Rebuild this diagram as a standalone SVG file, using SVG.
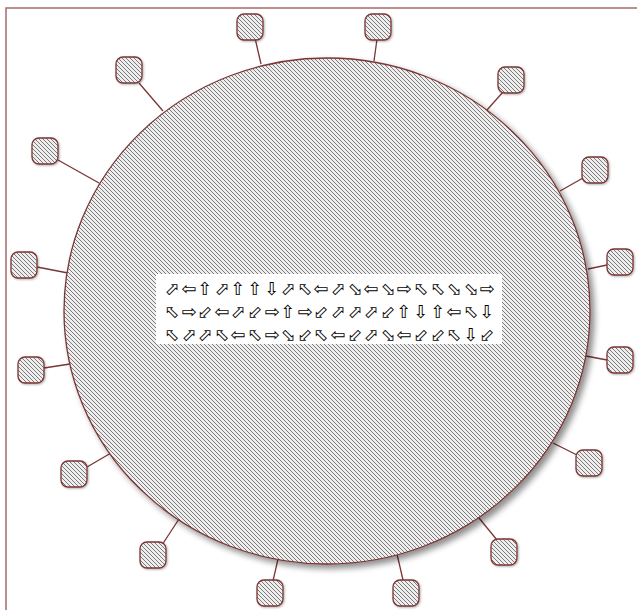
<svg xmlns="http://www.w3.org/2000/svg" width="637" height="610" viewBox="0 0 637 610">
<defs>
<pattern id="hatch" width="4" height="4" patternUnits="userSpaceOnUse">
<rect width="4" height="4" fill="#eeeeee"/>
<path d="M0,0 L4,4 M-1,3 L1,5 M3,-1 L5,1" stroke="#7a7a7a" stroke-width="1"/>
</pattern>
<filter id="shadow" x="-10%" y="-10%" width="125%" height="125%">
<feGaussianBlur in="SourceAlpha" stdDeviation="3"/>
<feOffset dx="4" dy="4" result="b"/>
<feComponentTransfer><feFuncA type="linear" slope="0.45"/></feComponentTransfer>
<feMerge><feMergeNode/><feMergeNode in="SourceGraphic"/></feMerge>
</filter>
<filter id="sshadow" x="-20%" y="-20%" width="150%" height="150%">
<feGaussianBlur in="SourceAlpha" stdDeviation="1"/>
<feOffset dx="1" dy="1"/>
<feComponentTransfer><feFuncA type="linear" slope="0.3"/></feComponentTransfer>
<feMerge><feMergeNode/><feMergeNode in="SourceGraphic"/></feMerge>
</filter>
</defs>
<style>
.frame{stroke:#a86a6a;stroke-width:1.5;fill:none}
.conn{stroke:#7b3535;stroke-width:1.3;fill:none}
.node{fill:url(#hatch);stroke:#7b3535;stroke-width:1.3}
.arr text{font-family:"DejaVu Sans",sans-serif;font-size:18px;fill:#000;text-anchor:middle}
</style>
<rect width="637" height="610" fill="#fff"/>
<path class="frame" d="M6,610 L6,8 L637,8"/>
<g id="connectors">
<line class="conn" x1="139" y1="83" x2="163" y2="111"/>
<line class="conn" x1="58" y1="160" x2="99" y2="183"/>
<line class="conn" x1="255" y1="38" x2="261" y2="64"/>
<line class="conn" x1="377" y1="39" x2="374" y2="61"/>
<line class="conn" x1="503" y1="92" x2="487" y2="110"/>
<line class="conn" x1="583" y1="178" x2="560" y2="191"/>
<line class="conn" x1="607" y1="265" x2="588" y2="269"/>
<line class="conn" x1="607" y1="360" x2="586" y2="356"/>
<line class="conn" x1="577" y1="455" x2="553" y2="443"/>
<line class="conn" x1="497" y1="540" x2="479" y2="518"/>
<line class="conn" x1="403" y1="580" x2="397" y2="554"/>
<line class="conn" x1="273" y1="581" x2="278" y2="559"/>
<line class="conn" x1="162" y1="545" x2="179" y2="519"/>
<line class="conn" x1="87" y1="467" x2="111" y2="453"/>
<line class="conn" x1="44" y1="368" x2="70" y2="364"/>
<line class="conn" x1="37" y1="267" x2="68" y2="273"/>
</g>
<g id="hub">
<ellipse cx="327" cy="311" rx="263" ry="253" fill="url(#hatch)" stroke="#7b3535" stroke-width="1.3" filter="url(#shadow)"/>
<rect x="156" y="274" width="346" height="70" fill="#fff"/>
<g class="arr">
<text x="172" y="295">⬀</text><text x="189" y="295">⇦</text><text x="205" y="295">⇧</text><text x="222" y="295">⬀</text><text x="238" y="295">⇧</text>
<text x="255" y="295">⇧</text><text x="272" y="295">⇩</text><text x="288" y="295">⬀</text><text x="305" y="295">⬁</text><text x="321" y="295">⇦</text>
<text x="338" y="295">⬀</text><text x="355" y="295">⬂</text><text x="371" y="295">⇦</text><text x="388" y="295">⬂</text><text x="404" y="295">⇨</text>
<text x="421" y="295">⬁</text><text x="438" y="295">⬁</text><text x="454" y="295">⬂</text><text x="471" y="295">⬂</text><text x="487" y="295">⇨</text>
<text x="172" y="318">⬁</text><text x="189" y="318">⇨</text><text x="205" y="318">⬃</text><text x="222" y="318">⇦</text><text x="238" y="318">⬀</text>
<text x="255" y="318">⬃</text><text x="272" y="318">⇨</text><text x="288" y="318">⇧</text><text x="305" y="318">⇨</text><text x="321" y="318">⬃</text>
<text x="338" y="318">⬀</text><text x="355" y="318">⬀</text><text x="371" y="318">⬀</text><text x="388" y="318">⬃</text><text x="404" y="318">⇧</text>
<text x="421" y="318">⇩</text><text x="438" y="318">⇧</text><text x="454" y="318">⇦</text><text x="471" y="318">⬁</text><text x="487" y="318">⇩</text>
<text x="172" y="341">⬁</text><text x="189" y="341">⬀</text><text x="205" y="341">⬀</text><text x="222" y="341">⬁</text><text x="238" y="341">⇦</text>
<text x="255" y="341">⬁</text><text x="272" y="341">⇨</text><text x="288" y="341">⬂</text><text x="305" y="341">⬃</text><text x="321" y="341">⬁</text>
<text x="338" y="341">⇦</text><text x="355" y="341">⬃</text><text x="371" y="341">⬀</text><text x="388" y="341">⬂</text><text x="404" y="341">⇦</text>
<text x="421" y="341">⬃</text><text x="438" y="341">⬃</text><text x="454" y="341">⬁</text><text x="471" y="341">⇩</text><text x="487" y="341">⬃</text>
</g>
</g>
<g id="n1"><rect class="node" x="116" y="57" width="26" height="26" rx="7" filter="url(#sshadow)"/></g>
<g id="n2"><rect class="node" x="32" y="138" width="26" height="26" rx="7" filter="url(#sshadow)"/></g>
<g id="n3"><rect class="node" x="237" y="14" width="26" height="26" rx="7" filter="url(#sshadow)"/></g>
<g id="n4"><rect class="node" x="365" y="14" width="26" height="26" rx="7" filter="url(#sshadow)"/></g>
<g id="n5"><rect class="node" x="498" y="67" width="26" height="26" rx="7" filter="url(#sshadow)"/></g>
<g id="n6"><rect class="node" x="582" y="157" width="26" height="26" rx="7" filter="url(#sshadow)"/></g>
<g id="n7"><rect class="node" x="607" y="249" width="26" height="26" rx="7" filter="url(#sshadow)"/></g>
<g id="n8"><rect class="node" x="607" y="347" width="26" height="26" rx="7" filter="url(#sshadow)"/></g>
<g id="n9"><rect class="node" x="576" y="450" width="26" height="26" rx="7" filter="url(#sshadow)"/></g>
<g id="n10"><rect class="node" x="491" y="539" width="26" height="26" rx="7" filter="url(#sshadow)"/></g>
<g id="n11"><rect class="node" x="393" y="580" width="26" height="26" rx="7" filter="url(#sshadow)"/></g>
<g id="n12"><rect class="node" x="257" y="580" width="26" height="26" rx="7" filter="url(#sshadow)"/></g>
<g id="n13"><rect class="node" x="140" y="542" width="26" height="26" rx="7" filter="url(#sshadow)"/></g>
<g id="n14"><rect class="node" x="61" y="461" width="26" height="26" rx="7" filter="url(#sshadow)"/></g>
<g id="n15"><rect class="node" x="18" y="357" width="26" height="26" rx="7" filter="url(#sshadow)"/></g>
<g id="n16"><rect class="node" x="11" y="252" width="26" height="26" rx="7" filter="url(#sshadow)"/></g>
</svg>
